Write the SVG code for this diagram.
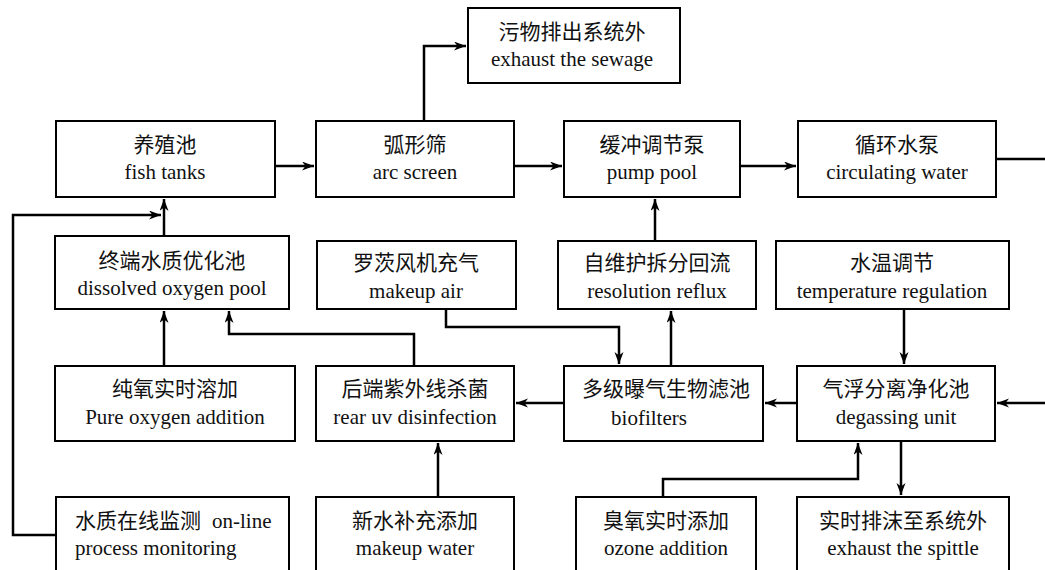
<svg xmlns="http://www.w3.org/2000/svg" width="1045" height="570" viewBox="0 0 1045 570">
<style>
.box{fill:#fff;stroke:#000;stroke-width:2}
.t{font-family:"Liberation Serif","Noto Sans CJK SC",serif;font-size:21px;fill:#111;text-anchor:middle}
.l{text-anchor:start}
.c{fill:none;stroke:#000;stroke-width:2.5}
</style>
<defs>
<marker id="a" markerUnits="userSpaceOnUse" markerWidth="14" markerHeight="10" refX="12" refY="4.5" orient="auto">
<path d="M0,0 L12,4.5 L0,9 L3.5,4.5 z" fill="#000"/>
</marker>
</defs>
<rect width="1045" height="570" fill="#fff"/>
<g id="connectors">
<path class="c" d="M424,121 V46 H466" marker-end="url(#a)"/>
<path class="c" d="M275,166 H314" marker-end="url(#a)"/>
<path class="c" d="M514,166 H562" marker-end="url(#a)"/>
<path class="c" d="M740,166 H796" marker-end="url(#a)"/>
<path class="c" d="M996,159 H1045"/>
<path class="c" d="M164,236 V199" marker-end="url(#a)"/>
<path class="c" d="M56,535 H13 V215 H161" marker-end="url(#a)"/>
<path class="c" d="M164,366 V311" marker-end="url(#a)"/>
<path class="c" d="M414,366 V334 H229 V311" marker-end="url(#a)"/>
<path class="c" d="M446,309 V327 H619 V364" marker-end="url(#a)"/>
<path class="c" d="M671,366 V311" marker-end="url(#a)"/>
<path class="c" d="M655,241 V199" marker-end="url(#a)"/>
<path class="c" d="M904,309 V364" marker-end="url(#a)"/>
<path class="c" d="M1045,403 H997" marker-end="url(#a)"/>
<path class="c" d="M797,403 H765" marker-end="url(#a)"/>
<path class="c" d="M564,403 H516" marker-end="url(#a)"/>
<path class="c" d="M438,497 V443" marker-end="url(#a)"/>
<path class="c" d="M663,497 V479 H858 V443" marker-end="url(#a)"/>
<path class="c" d="M901,441 V495" marker-end="url(#a)"/>
</g>
<g id="n-sewage"><rect class="box" x="468" y="8" width="212" height="75"/><text class="t" x="572" y="39">污物排出系统外</text><text class="t" x="572" y="66">exhaust the sewage</text></g>
<g id="n-fish"><rect class="box" x="56" y="121" width="219" height="76"/><text class="t" x="165" y="152">养殖池</text><text class="t" x="165" y="179">fish tanks</text></g>
<g id="n-arc"><rect class="box" x="316" y="121" width="198" height="76"/><text class="t" x="415" y="152">弧形筛</text><text class="t" x="415" y="179">arc screen</text></g>
<g id="n-pump"><rect class="box" x="564" y="121" width="176" height="76"/><text class="t" x="652" y="152">缓冲调节泵</text><text class="t" x="652" y="179">pump pool</text></g>
<g id="n-circ"><rect class="box" x="798" y="121" width="198" height="76"/><text class="t" x="897" y="152">循环水泵</text><text class="t" x="897" y="179">circulating water</text></g>
<g id="n-do"><rect class="box" x="55" y="236" width="234" height="73"/><text class="t" x="172" y="268">终端水质优化池</text><text class="t" x="172" y="295">dissolved oxygen pool</text></g>
<g id="n-air"><rect class="box" x="317" y="241" width="199" height="68"/><text class="t" x="416" y="270">罗茨风机充气</text><text class="t" x="416" y="298">makeup air</text></g>
<g id="n-reflux"><rect class="box" x="558" y="241" width="198" height="68"/><text class="t" x="657" y="270">自维护拆分回流</text><text class="t" x="657" y="298">resolution reflux</text></g>
<g id="n-temp"><rect class="box" x="776" y="241" width="233" height="68"/><text class="t" x="892" y="270">水温调节</text><text class="t" x="892" y="298">temperature regulation</text></g>
<g id="n-o2"><rect class="box" x="55" y="366" width="240" height="75"/><text class="t" x="175" y="396">纯氧实时溶加</text><text class="t" x="175" y="424">Pure oxygen addition</text></g>
<g id="n-uv"><rect class="box" x="316" y="366" width="198" height="75"/><text class="t" x="415" y="396">后端紫外线杀菌</text><text class="t" x="415" y="424">rear uv disinfection</text></g>
<g id="n-bio"><rect class="box" x="564" y="366" width="199" height="75"/><text class="t" x="666" y="396">多级曝气生物滤池</text><text class="t" x="649" y="425">biofilters</text></g>
<g id="n-degas"><rect class="box" x="797" y="366" width="198" height="75"/><text class="t" x="896" y="396">气浮分离净化池</text><text class="t" x="896" y="424">degassing unit</text></g>
<g id="n-monitor"><rect class="box" x="56" y="497" width="233" height="90"/><text class="t l" x="75" y="528">水质在线监测<tspan x="212">on-line</tspan></text><text class="t l" x="75" y="555">process monitoring</text></g>
<g id="n-water"><rect class="box" x="316" y="497" width="198" height="90"/><text class="t" x="415" y="528">新水补充添加</text><text class="t" x="415" y="555">makeup water</text></g>
<g id="n-ozone"><rect class="box" x="576" y="497" width="180" height="90"/><text class="t" x="666" y="528">臭氧实时添加</text><text class="t" x="666" y="555">ozone addition</text></g>
<g id="n-spittle"><rect class="box" x="797" y="497" width="212" height="90"/><text class="t" x="903" y="528">实时排沫至系统外</text><text class="t" x="903" y="555">exhaust the spittle</text></g>
</svg>
